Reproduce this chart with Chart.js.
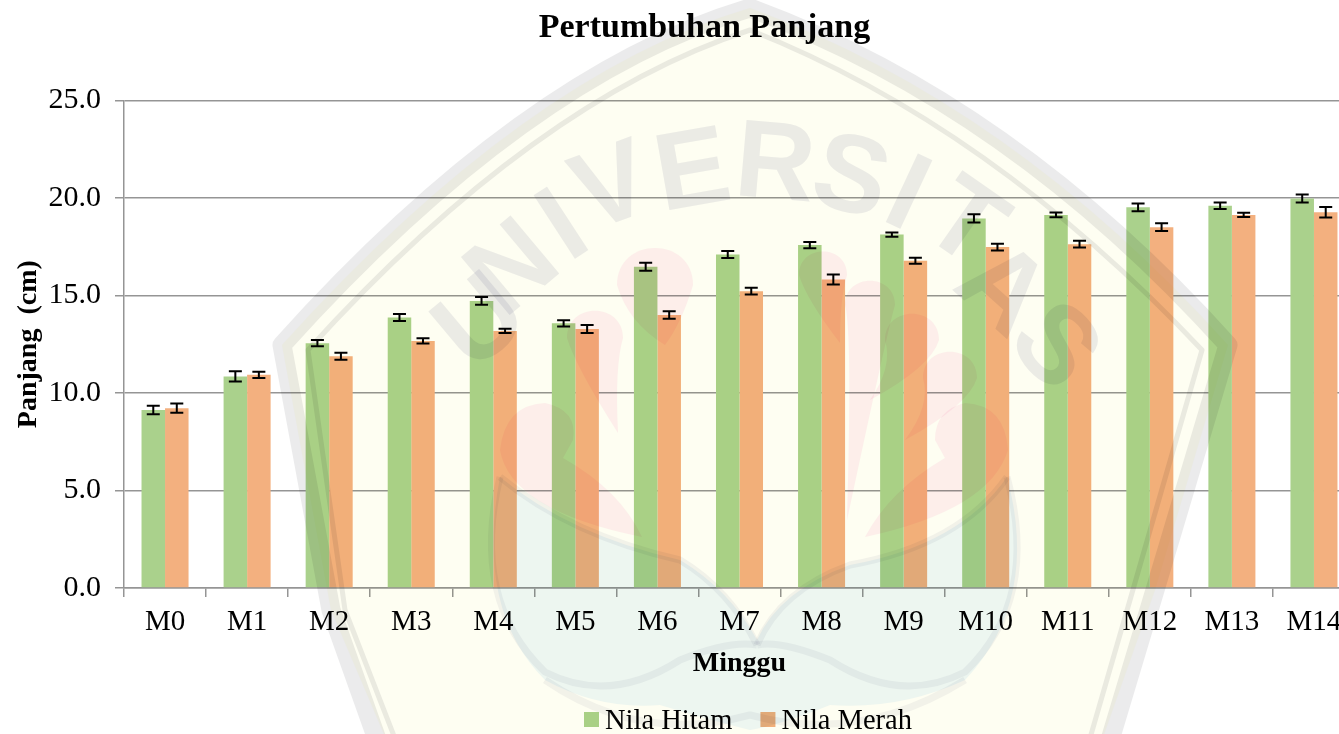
<!DOCTYPE html>
<html><head><meta charset="utf-8">
<script src="https://cdn.jsdelivr.net/npm/chart.js@4"></script>
<style>html,body{margin:0;padding:0;background:#fff;overflow:hidden;width:1339px;height:734px}canvas{display:block}</style>
</head><body><canvas id="c" width="1409" height="734"></canvas>
<script>
const categories=["M0","M1","M2","M3","M4","M5","M6","M7","M8","M9","M10","M11","M12","M13","M14"];
const nilaHitam=[9.13,10.85,12.55,13.87,14.72,13.57,16.47,17.1,17.58,18.12,18.95,19.13,19.52,19.6,19.97];
const nilaMerah=[9.22,10.93,11.88,12.67,13.18,13.28,14.0,15.22,15.82,16.78,17.48,17.63,18.5,19.13,19.27];
const errHitam=[0.22,0.26,0.16,0.18,0.2,0.16,0.2,0.18,0.16,0.11,0.21,0.12,0.2,0.17,0.21];
const errMerah=[0.24,0.16,0.18,0.14,0.11,0.21,0.19,0.17,0.26,0.15,0.17,0.17,0.2,0.11,0.27];
const yTicks=[0,5,10,15,20,25];
const serif='"Liberation Serif","Times New Roman",serif';
const GREEN='#aad18c',ORANGE='#f3b07f',AXIS='#959595';

function shield(c,a,b,d,e,f,g,h,i,j,k){
  c.beginPath();c.moveTo(...a);c.quadraticCurveTo(...b,...d);c.quadraticCurveTo(...e,...f);
  c.lineTo(...g);c.lineTo(...h);c.lineTo(...i);c.lineTo(...j);c.closePath();
}
function blob(c,x,y,r,tx,ty){
  c.beginPath();c.moveTo(x-r,y);c.bezierCurveTo(x-r,y-r*1.3,x+r,y-r*1.3,x+r,y);
  c.quadraticCurveTo(x+r*0.7,y+r,tx,ty);c.quadraticCurveTo(x-r*0.7,y+r,x-r,y);c.fill();
}
const whiteBack={id:'whiteBack',beforeDraw(ch){const c=ch.ctx;c.save();c.fillStyle='#fff';c.fillRect(0,0,ch.width,ch.height);c.restore();}};
const watermark={id:'watermark',afterDatasetsDraw(ch){
  const c=ch.ctx;c.save();
  c.globalCompositeOperation='multiply';c.lineJoin='round';c.lineCap='butt';
  // pale shield
  c.fillStyle='#fefef2';
  shield(c,[282,345],[526,74],[750,8],[1011,104],[1228,345],[1155,590],[1095,760],[395,760],[331,610]);c.fill();
  // leaf area
  c.fillStyle='#eef7fd';
  c.beginPath();c.moveTo(500,477);c.quadraticCurveTo(570,535,680,560);c.quadraticCurveTo(730,590,757,640);
  c.quadraticCurveTo(780,590,850,565);c.quadraticCurveTo(960,545,1007,477);
  c.quadraticCurveTo(1040,600,965,680);c.quadraticCurveTo(900,710,830,705);c.quadraticCurveTo(780,725,750,730);
  c.quadraticCurveTo(710,720,660,705);c.quadraticCurveTo(600,710,545,680);c.quadraticCurveTo(475,610,500,477);c.fill();
  // pink emblem
  c.fillStyle='#feeff7';
  c.beginPath();c.moveTo(642,537);c.quadraticCurveTo(510,510,500,450);c.quadraticCurveTo(505,405,545,403);
  c.quadraticCurveTo(578,410,573,440);c.lineTo(563,458);c.quadraticCurveTo(620,490,642,537);c.fill();
  blob(c,595,338,28,618,433);
  blob(c,655,285,38,665,345);
  blob(c,823,275,24,840,343);
  blob(c,870,305,25,847,520);
  blob(c,912,340,27,870,400);
  blob(c,950,378,27,905,440);
  c.beginPath();c.moveTo(865,537);c.quadraticCurveTo(990,510,1008,450);c.quadraticCurveTo(1005,405,965,403);
  c.quadraticCurveTo(935,410,935,440);c.lineTo(945,458);c.quadraticCurveTo(890,490,865,537);c.fill();
  // outer band + inner line
  c.strokeStyle='#ebebec';c.lineWidth=19;
  shield(c,[282,345],[526,74],[750,8],[1011,104],[1228,345],[1155,590],[1095,790],[395,790],[331,610]);c.stroke();
  c.lineWidth=5;
  shield(c,[308,350],[535,100],[750,30],[990,125],[1202,350],[1130,600],[1075,790],[415,790],[345,610]);c.stroke();
  // lettering
  c.fillStyle='#ececf2';c.font='bold 110px "Liberation Sans",sans-serif';c.textAlign='center';c.textBaseline='middle';
  const letters=[['U',483,322,-40],['N',515,268,-40],['I',565,226,-33],['V',613,188,-20],['E',693,172,-10],['R',775,165,5],['S',850,178,15],['I',906,195,25],['T',963,223,35],['A',1000,289,42],['S',1052,346,48]];
  letters.forEach(([t,x,y,r])=>{c.save();c.translate(x,y+3);c.rotate(r*Math.PI/180);c.fillText(t,0,0);c.restore();});
  // emblem outlines
  c.strokeStyle='#f3f3f6';c.lineWidth=7;
  c.beginPath();c.moveTo(500,477);c.quadraticCurveTo(470,600,545,672);c.quadraticCurveTo(610,705,680,660);c.quadraticCurveTo(730,640,757,645);c.stroke();
  c.beginPath();c.moveTo(500,477);c.quadraticCurveTo(570,535,680,560);c.quadraticCurveTo(730,590,757,645);c.stroke();
  c.beginPath();c.moveTo(1007,477);c.quadraticCurveTo(1040,600,965,672);c.quadraticCurveTo(900,705,830,660);c.quadraticCurveTo(780,640,757,645);c.stroke();
  c.beginPath();c.moveTo(1007,477);c.quadraticCurveTo(960,545,850,565);c.quadraticCurveTo(780,590,757,645);c.stroke();
  c.beginPath();c.moveTo(545,680);c.quadraticCurveTo(640,745,750,715);c.quadraticCurveTo(860,745,965,680);c.stroke();
  c.restore();
}};
const errorBars={id:'errorBars',afterDatasetsDraw(ch){
  const c=ch.ctx,y=ch.scales.y;c.save();c.strokeStyle='#000';c.lineWidth=2;
  [errHitam,errMerah].forEach((errs,d)=>{
    ch.getDatasetMeta(d).data.forEach((bar,i)=>{
      const v=ch.data.datasets[d].data[i],x=bar.x,t=y.getPixelForValue(v+errs[i]),b=y.getPixelForValue(v-errs[i]);
      c.beginPath();c.moveTo(x-6.5,t);c.lineTo(x+6.5,t);c.moveTo(x,t);c.lineTo(x,b);c.moveTo(x-6.5,b);c.lineTo(x+6.5,b);c.stroke();
    });
  });c.restore();
}};
const titleShift={id:'titleShift',afterLayout(ch){const t=ch.titleBlock;t.left+=27;t.right+=27;}};
const bottomLegend={id:'bottomLegend',afterDraw(ch){
  const c=ch.ctx;c.save();c.font='28.5px '+serif;c.textBaseline='middle';c.textAlign='left';
  let x=584;const yy=719.5;
  ch.data.datasets.forEach(ds=>{
    c.save();c.globalCompositeOperation='multiply';c.fillStyle=ds.backgroundColor;c.fillRect(x,yy-7.5,15,15);c.restore();
    x+=21;c.fillStyle='#000';c.fillText(ds.label,x,yy+2);
    x+=c.measureText(ds.label).width+28;
  });c.restore();
}};
new Chart(document.getElementById('c'),{
  type:'bar',
  data:{labels:categories,datasets:[
    {label:'Nila Hitam',data:nilaHitam,backgroundColor:GREEN,barPercentage:1,categoryPercentage:0.573},
    {label:'Nila Merah',data:nilaMerah,backgroundColor:ORANGE,barPercentage:1,categoryPercentage:0.573}
  ]},
  plugins:[whiteBack,titleShift,watermark,errorBars,bottomLegend],
  options:{
    responsive:false,animation:false,
    layout:{padding:{right:54,left:0,top:0,bottom:0}},
    plugins:{
      legend:{display:false},tooltip:{enabled:false},
      title:{display:true,text:'Pertumbuhan Panjang',color:'#000',font:{family:serif,size:34,weight:'bold',lineHeight:1.2},padding:{top:8,bottom:51.6}}
    },
    scales:{
      x:{
        afterFit(s){s.height=146;},
        grid:{drawOnChartArea:false,drawTicks:true,tickLength:9,color:AXIS,lineWidth:1.5,offset:true},
        border:{color:AXIS,width:1.5},
        ticks:{color:'#000',font:{family:serif,size:29},padding:8,maxRotation:0,autoSkip:false},
        title:{display:true,text:'Minggu',color:'#000',font:{family:serif,size:28,weight:'bold',lineHeight:1.2},padding:{top:0,bottom:53}}
      },
      y:{
        min:0,max:25,
        afterFit(s){s.width=124;},
        afterBuildTicks(s){s.ticks=yTicks.map(v=>({value:v}));},
        grid:{color:AXIS,lineWidth:1.5,tickLength:9},
        border:{color:AXIS,width:1.5},
        ticks:{color:'#000',font:{family:serif,size:30},padding:14,callback:v=>v.toFixed(1)},
        title:{display:true,text:'Panjang  (cm)',color:'#000',font:{family:serif,size:28,weight:'bold',lineHeight:1.2},padding:{top:12,bottom:0}}
      }
    }
  }
});
</script></body></html>
